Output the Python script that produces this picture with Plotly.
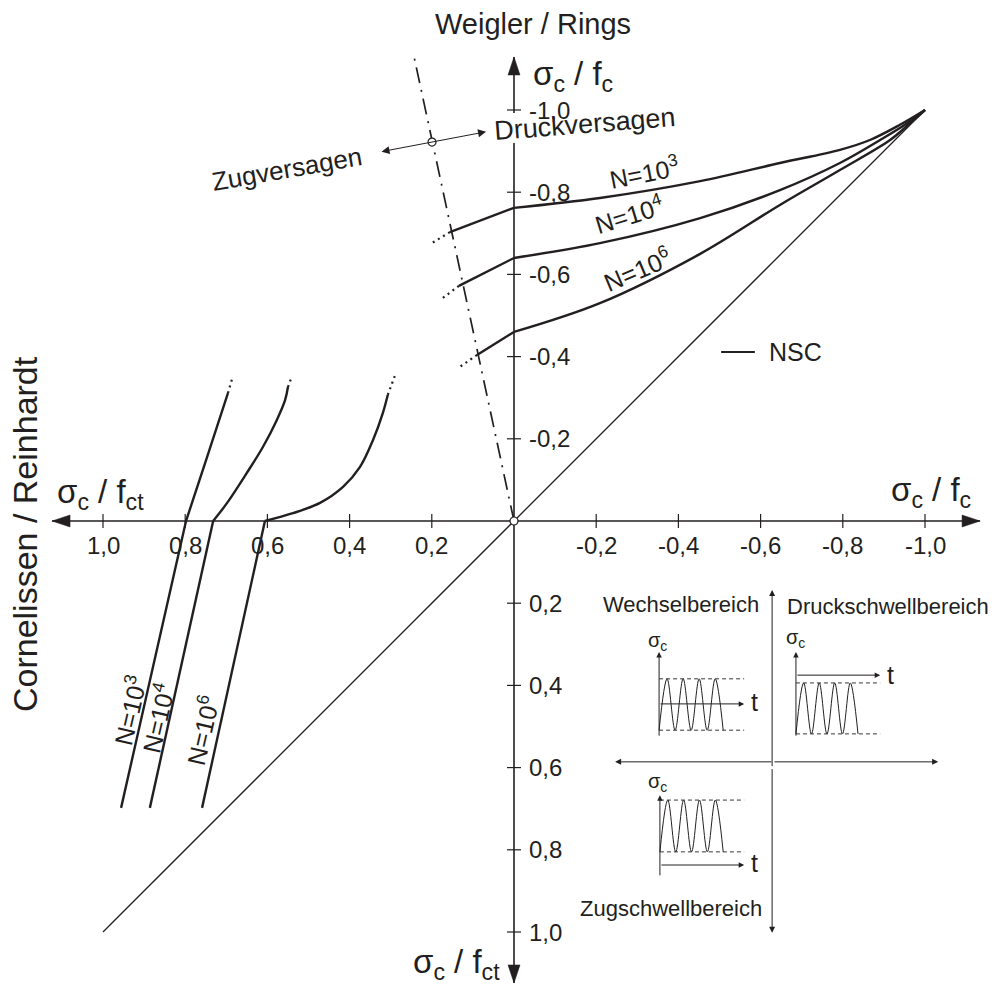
import plotly.graph_objects as go

# ---------------- data ----------------
TICK_VALUES = [1.0, 0.8, 0.6, 0.4, 0.2, -0.2, -0.4, -0.6, -0.8, -1.0]
TICK_LABELS = ["1,0", "0,8", "0,6", "0,4", "0,2", "-0,2", "-0,4", "-0,6", "-0,8", "-1,0"]

CYCLE_LABELS = ["N=10<sup>3</sup>", "N=10<sup>4</sup>", "N=10<sup>6</sup>"]

# Weigler / Rings (compression quadrant): x = sigma_c,min / f_c, y = sigma_c,max / f_c
WR_N3_X = [0.156, 0.0, -0.209, -0.453, -0.647, -0.793, -0.866, -0.939, -1.0]
WR_N3_Y = [-0.703, -0.762, -0.786, -0.827, -0.871, -0.903, -0.927, -0.964, -1.0]
WR_N4_X = [0.134, 0.0, -0.209, -0.453, -0.647, -0.793, -0.891, -0.951, -1.0]
WR_N4_Y = [-0.572, -0.640, -0.676, -0.737, -0.805, -0.871, -0.927, -0.964, -1.0]
WR_N6_X = [0.090, 0.0, -0.209, -0.453, -0.647, -0.793, -0.915, -0.964, -1.0]
WR_N6_Y = [-0.404, -0.460, -0.530, -0.650, -0.769, -0.854, -0.927, -0.968, -1.0]
WR_STUB_X = [[0.156, 0.200], [0.134, 0.173], [0.090, 0.136]]
WR_STUB_Y = [[-0.703, -0.676], [-0.572, -0.543], [-0.404, -0.372]]

# Cornelissen / Reinhardt (tension quadrant): x = sigma_c / f_ct
CR_N3_X = [0.956, 0.798, 0.747, 0.696]
CR_N3_Y = [0.698, 0.0, -0.155, -0.311]
CR_N4_X = [0.886, 0.732, 0.698, 0.650, 0.611, 0.577, 0.557, 0.550]
CR_N4_Y = [0.698, 0.0, -0.044, -0.117, -0.180, -0.246, -0.294, -0.326]
CR_N6_X = [0.759, 0.606, 0.538, 0.472, 0.416, 0.375, 0.343, 0.319, 0.307]
CR_N6_Y = [0.698, 0.0, -0.019, -0.044, -0.083, -0.131, -0.197, -0.263, -0.307]
CR_STUB_X = [[0.696, 0.684], [0.550, 0.540], [0.307, 0.290]]
CR_STUB_Y = [[-0.311, -0.353], [-0.326, -0.353], [-0.307, -0.353]]

# diagonal sigma_min = sigma_max and failure-mode boundary
DIAG_X = [1.0, -1.0]
DIAG_Y = [1.0, -1.0]
BOUND_X = [0.0, 0.2457]
BOUND_Y = [0.0, -1.141]

WAVE_LEVELS = [0, 1, 0, 1, 0, 1, 0, 1, 0]  # 0 = trough, 1 = crest (schematic load cycles)

# ---------------- drawing ----------------
PX = 411.0  # pixels per data unit (for pixel-sized decorations)
BLACK = "#231f20"
FONT = "Liberation Sans, Arial, Helvetica, sans-serif"

fig = go.Figure()


def line(x, y, width=1.5, dash=None, shape="linear", color=BLACK):
    fig.add_trace(go.Scatter(x=x, y=y, mode="lines",
                             line=dict(color=color, width=width, dash=dash, shape=shape, smoothing=1.0),
                             hoverinfo="skip", showlegend=False))


def text(x, y, s, size, angle=0, xanchor="center", yanchor="middle", xshift=0, yshift=0):
    fig.add_annotation(x=x, y=y, xref="x", yref="y", text=s, showarrow=False,
                       font=dict(family=FONT, size=size, color=BLACK), textangle=angle,
                       xanchor=xanchor, yanchor=yanchor, xshift=xshift, yshift=yshift)


def arrow(x0, y0, x1, y1, both=False, size=1.4, width=1.0):
    fig.add_annotation(x=x1, y=y1, ax=x0, ay=y0, xref="x", yref="y", axref="x", ayref="y",
                       text="", showarrow=True, arrowhead=2, arrowsize=size, arrowwidth=width,
                       arrowcolor=BLACK, arrowside="end+start" if both else "end",
                       startarrowhead=2, startarrowsize=size, standoff=0, startstandoff=0)


def tri(tx, ty, dx, dy, length=18, half=6):
    # filled arrow head; (dx, dy) unit direction of the arrow
    L = length / PX
    H = half / PX
    bx, by = tx - dx * L, ty - dy * L
    px_, py_ = -dy * H, dx * H
    fig.add_trace(go.Scatter(x=[tx, bx + px_, bx - px_, tx], y=[ty, by + py_, by - py_, ty],
                             mode="lines", fill="toself", fillcolor=BLACK,
                             line=dict(color=BLACK, width=0.5), hoverinfo="skip", showlegend=False))


# main axes
X_LEFT, X_RIGHT = 1.124, -1.134
Y_TOP, Y_BOTTOM = -1.129, 1.124
line([X_LEFT, X_RIGHT], [0, 0], width=1.6)
line([0, 0], [Y_TOP, -0.993], width=1.6)
line([0, 0], [-0.920, Y_BOTTOM], width=1.6)
tri(X_LEFT, 0, 1, 0)
tri(X_RIGHT, 0, -1, 0)
tri(0, Y_TOP, 0, -1)
tri(0, Y_BOTTOM, 0, 1)

# ticks
T = 7 / PX
tx, ty = [], []
for v in TICK_VALUES:
    tx += [v, v, None, -T, T, None]
    ty += [-T, T, None, v, v, None]
line(tx, ty, width=1.2)

for v, lab in zip(TICK_VALUES, TICK_LABELS):
    text(v, 0, lab, 24, yshift=-24)
    text(0, v, lab, 24, xanchor="left", xshift=13)

# diagonal and boundary
line(DIAG_X, DIAG_Y, width=1.3)
line(BOUND_X, BOUND_Y, width=1.7, dash="16px,7px,2px,7px")

# Weigler / Rings curves
for X, Y in [(WR_N3_X, WR_N3_Y), (WR_N4_X, WR_N4_Y), (WR_N6_X, WR_N6_Y)]:
    line(X[:2], Y[:2], width=2.4)
    line(X[1:], Y[1:], width=2.4, shape="spline")
for X, Y in zip(WR_STUB_X, WR_STUB_Y):
    line(X, Y, width=2.2, dash="2px,4px")

# Cornelissen / Reinhardt curves
line(CR_N3_X, CR_N3_Y, width=2.4)
for X, Y in [(CR_N4_X, CR_N4_Y), (CR_N6_X, CR_N6_Y)]:
    line(X[:2], Y[:2], width=2.4)
    line(X[1:], Y[1:], width=2.4, shape="spline")
for X, Y in zip(CR_STUB_X, CR_STUB_Y):
    line(X, Y, width=2.2, dash="2px,4px")

# failure-mode arrow and markers
arrow(0.326, -0.898, 0.068, -0.947, both=True, size=1.6, width=1.0)
fig.add_trace(go.Scatter(x=[0.1995, 0.0], y=[-0.922, 0.0], mode="markers",
                         marker=dict(symbol="circle", size=8, color="white",
                                     line=dict(color=BLACK, width=1.2)),
                         hoverinfo="skip", showlegend=False))

# curve labels
for (x, y, a), lab in zip([(-0.316, -0.849, -11), (-0.279, -0.747, -17), (-0.299, -0.613, -23)], CYCLE_LABELS):
    text(x, y, lab, 25, angle=a)
for (x, y), lab in zip([(0.936, 0.460), (0.868, 0.479), (0.759, 0.509)], CYCLE_LABELS):
    text(x, y, lab, 25, angle=-77)

# legend NSC
line([-0.504, -0.586], [-0.411, -0.411], width=2.0)
text(-0.615, -0.411, "NSC", 25, xanchor="left")

# titles / axis labels
text(-0.046, -1.209, "Weigler / Rings", 29)
text(1.190, 0.032, "Cornelissen / Reinhardt", 34, angle=-90)
text(0, -1.083, "σ<sub>c</sub> / f<sub>c</sub>", 33, xanchor="left", xshift=17)
text(-1.015, -0.071, "σ<sub>c</sub> / f<sub>c</sub>", 33)
text(1.007, -0.066, "σ<sub>c</sub> / f<sub>ct</sub>", 33)
text(0.141, 1.078, "σ<sub>c</sub> / f<sub>ct</sub>", 33)
text(-0.173, -0.966, "Druckversagen", 27, angle=-4.5)
text(0.552, -0.856, "Zugversagen", 26, angle=-10)

# ---------------- inset: load regimes ----------------
arrow(-0.628, 0.60, -0.628, 0.168, size=1.2)
arrow(-0.628, 0.60, -0.628, 1.002, size=1.2)
arrow(-0.63, 0.586, -0.246, 0.586, size=1.2)
arrow(-0.63, 0.586, -1.032, 0.586, size=1.2)
text(-0.406, 0.204, "Wechselbereich", 22)
text(-0.910, 0.207, "Druckschwellbereich", 22)
text(-0.382, 0.942, "Zugschwellbereich", 22)


def panel(ax_x, ax_y0, ax_y1, t_y, lo, hi, wave_x1, t_x1, sig_xy, t_xy):
    arrow(ax_x, ax_y0, ax_x, ax_y1, size=1.1, width=1.0)
    arrow(ax_x, t_y, t_x1, t_y, size=1.1, width=1.0)
    line([ax_x, t_x1], [hi, hi], width=0.9, dash="4px,3px")
    line([ax_x, t_x1], [lo, lo], width=0.9, dash="4px,3px")
    n = len(WAVE_LEVELS)
    wx = [ax_x + (wave_x1 - ax_x) * i / (n - 1) for i in range(n)]
    wy = [lo + (hi - lo) * v for v in WAVE_LEVELS]
    line(wx, wy, width=1.0, shape="spline")
    text(sig_xy[0], sig_xy[1], "σ<sub>c</sub>", 20)
    text(t_xy[0], t_xy[1], "t", 25)


panel(-0.353, 0.526, 0.319, 0.445, 0.509, 0.384, -0.509, -0.560, (-0.348, 0.294), (-0.586, 0.440))
panel(-0.686, 0.526, 0.319, 0.375, 0.518, 0.394, -0.837, -0.891, (-0.684, 0.285), (-0.915, 0.375))
panel(-0.355, 0.866, 0.667, 0.837, 0.805, 0.679, -0.509, -0.560, (-0.350, 0.637), (-0.586, 0.832))

fig.update_layout(
    width=992, height=985, autosize=False,
    margin=dict(l=0, r=0, t=0, b=0, pad=0),
    paper_bgcolor="white", plot_bgcolor="white",
    xaxis=dict(range=[514 / PX, -478 / PX], visible=False, fixedrange=True),
    yaxis=dict(range=[464 / PX, -521 / PX], visible=False, fixedrange=True),
    showlegend=False,
)

fig.write_html("out.html")
